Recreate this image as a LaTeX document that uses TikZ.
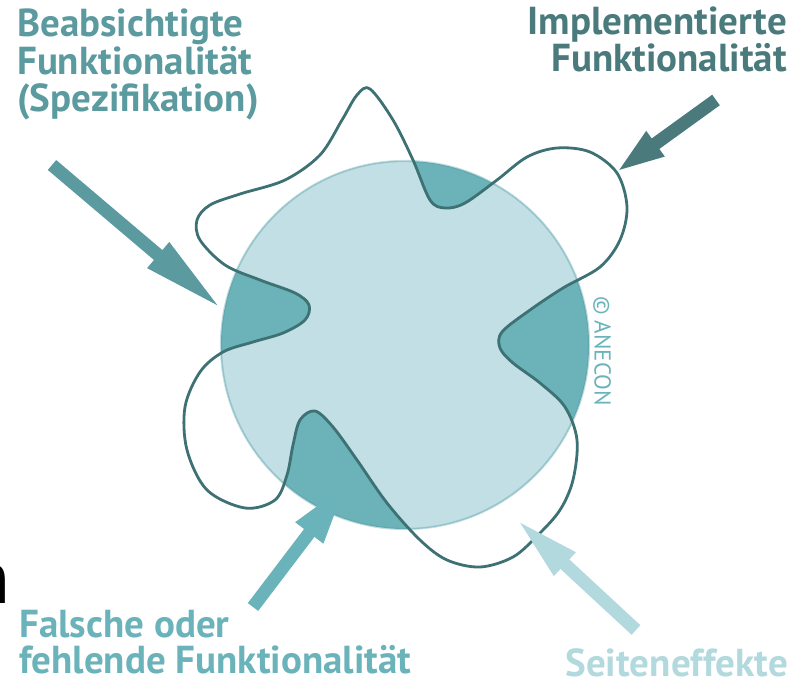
\documentclass[tikz,border=0pt]{standalone}
\usepackage{fontspec}
\setmainfont{PT Sans}
\usetikzlibrary{arrows.meta}
\definecolor{cspec}{HTML}{5B9A9F}
\definecolor{cimpl}{HTML}{4A7A7C}
\definecolor{cfalse}{HTML}{6BB3BA}
\definecolor{cside}{HTML}{B2D9DD}
\definecolor{clight}{HTML}{C1DFE4}
\definecolor{cdark}{HTML}{6BB2B9}
\definecolor{ccurve}{HTML}{3D7174}
\definecolor{cedge}{HTML}{4F9AA2}
\tikzset{
  lbl/.style={inner sep=0pt, font=\fontsize{39}{39}\selectfont\bfseries},
  fatarrow/.style={line width=13pt},
}
\begin{document}
\begin{tikzpicture}[x=1pt,y=-1pt]
\useasboundingbox (0,0) rectangle (803,682);
% big circle with missing functionality
\coordinate (ctr) at (405,345);
\fill[cdark] (ctr) circle[radius=184pt];
\path[save path=\blobpath] plot[smooth cycle, tension=0.55] coordinates {
 (370,89) (393,120) (413,160) (430,200) (445,208) (465,203) (497,180) (527,157)
 (557,148) (590,152) (617,173) (627,207) (620,240) (600,267) (563,288) (530,310)
 (502,332) (500,348) (513,363) (540,383) (565,407) (577,440) (573,480) (560,510)
 (538,535) (513,557) (480,567) (447,560) (420,540) (387,503) (357,460) (333,427)
 (315,411) (300,420) (293,445) (287,475) (275,500) (245,508) (207,490) (187,450)
 (185,407) (200,372) (223,352) (253,342) (283,333) (305,320) (309,305) (295,293)
 (260,280) (225,265) (200,240) (197,220) (210,205) (240,194) (285,180) (320,155)
 (342,120) (357,95)};
\begin{scope}
  \clip (ctr) circle[radius=184pt];
  \fill[clight, use path=\blobpath];
\end{scope}
\draw[cedge, opacity=0.35, line width=2.2pt] (ctr) circle[radius=184pt];
\draw[ccurve, line width=2.8pt, use path=\blobpath];
% copyright
\node[inner sep=0pt, rotate=-90, text=cfalse, font=\fontsize{23}{23}\selectfont] (copy) at (602,351) {© ANECON};
% labels
\node[lbl, text=cspec, anchor=base west] (spec1) at (17,37) {Beabsichtigte};
\node[lbl, text=cspec, anchor=base west] (spec2) at (17,75) {Funktionalität};
\node[lbl, text=cspec, anchor=base west] (spec3) at (17,112) {(Spezifikation)};
\node[lbl, text=cimpl, anchor=base east] (impl1) at (787,35) {Implementierte};
\node[lbl, text=cimpl, anchor=base east] (impl2) at (787,72) {Funktionalität};
\node[lbl, text=cfalse, anchor=base west] (false1) at (19,637) {Falsche oder};
\node[lbl, text=cfalse, anchor=base west] (false2) at (19,673) {fehlende Funktionalität};
\node[lbl, text=cside, anchor=base east] (side) at (788,676) {Seiteneffekte};
\node[inner sep=0pt, anchor=base east, font=\fontsize{75}{75}\selectfont] (frag) at (11,603) {n};
% arrows
\coordinate (a1s) at (52,165); \coordinate (a1e) at (223,310);
\coordinate (a2s) at (716,100); \coordinate (a2e) at (615,173);
\coordinate (a3s) at (253,607); \coordinate (a3e) at (348,482);
\coordinate (a4s) at (636,630); \coordinate (a4e) at (515,518);
\draw[fatarrow, cspec, -{Triangle[length=85pt,width=30pt]}] (a1s) -- (a1e);
\draw[fatarrow, cimpl, -{Triangle[length=50pt,width=27pt]}] (a2s) -- (a2e);
\draw[fatarrow, cfalse, -{Triangle[length=64pt,width=31pt]}] (a3s) -- (a3e);
\draw[fatarrow, cside, -{Triangle[length=68pt,width=28pt]}] (a4s) -- (a4e);
\end{tikzpicture}
\end{document}
